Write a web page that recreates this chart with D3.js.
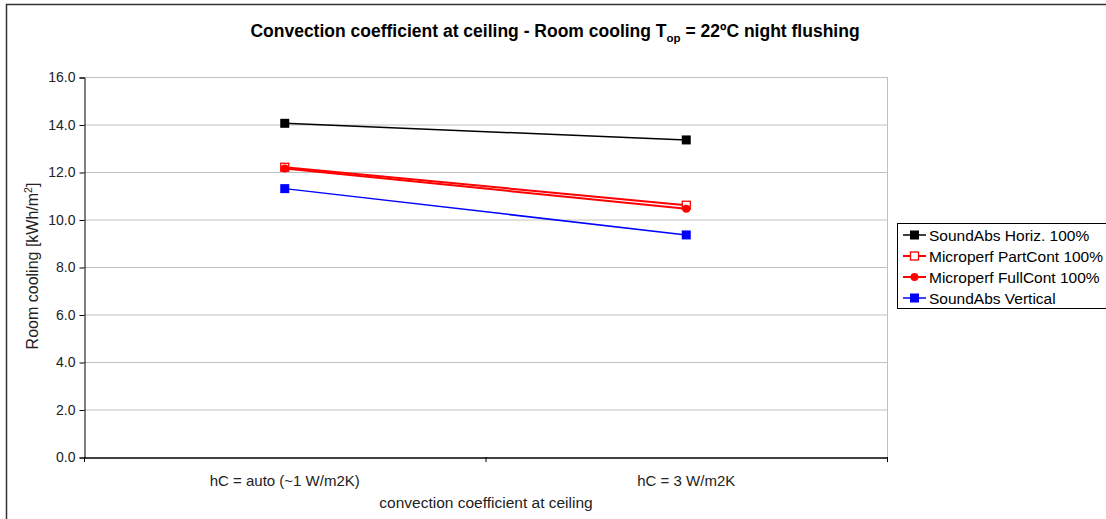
<!DOCTYPE html>
<html><head><meta charset="utf-8">
<script src="https://d3js.org/d3.v7.min.js"></script>
<style>body{margin:0;background:#fff;}svg{display:block;font-family:"Liberation Sans",Arial,sans-serif;}</style>
</head><body>
<svg id="c" width="1106" height="519"></svg>
<script>
const categories = ["hC = auto (~1 W/m2K)", "hC = 3 W/m2K"];
const seriesNames = ["SoundAbs Horiz. 100%", "Microperf PartCont 100%", "Microperf FullCont 100%", "SoundAbs Vertical"];
const soundAbsHoriz = [14.05, 13.35];
const microperfPart = [12.2, 10.6];
const microperfFull = [12.15, 10.45];
const soundAbsVert = [11.3, 9.35];
const yTicks = [0, 2, 4, 6, 8, 10, 12, 14, 16];

const series = [
  {name: seriesNames[0], values: soundAbsHoriz, color: "#000000", marker: "square", width: 1.5},
  {name: seriesNames[1], values: microperfPart, color: "#ff0000", marker: "openSquare", width: 2},
  {name: seriesNames[2], values: microperfFull, color: "#ff0000", marker: "circle", width: 2},
  {name: seriesNames[3], values: soundAbsVert, color: "#0000ff", marker: "square", width: 1.5}
];

const svg = d3.select("#c");
svg.append("rect").attr("x", 6.5).attr("y", 4.5).attr("width", 1200).attr("height", 600)
  .attr("fill", "#fff").attr("stroke", "#333").attr("stroke-width", 1.5);

const L = 84, R = 887, T = 77, B = 457;
const x = d3.scaleBand().domain(categories).range([L, R]);
const y = d3.scaleLinear().domain([0, 16]).range([B, T]);

svg.append("g").selectAll("line").data(yTicks.filter(d => d > 0)).join("line")
  .attr("x1", L).attr("x2", R).attr("y1", d => y(d) + 0.5).attr("y2", d => y(d) + 0.5)
  .attr("stroke", "#c0c0c0").attr("stroke-width", 1);
svg.append("line").attr("x1", R + 0.5).attr("x2", R + 0.5).attr("y1", T).attr("y2", B)
  .attr("stroke", "#c0c0c0");

const yAxis = d3.axisLeft(y).tickValues(yTicks).tickFormat(d3.format(".1f")).tickSize(5).tickPadding(4);
const gy = svg.append("g").attr("transform", `translate(${L + 0.5},0.5)`).call(yAxis);
gy.select(".domain").attr("stroke", "#000");
gy.selectAll(".tick line").attr("stroke", "#000");
gy.selectAll("text").attr("font-size", 14).attr("fill", "#222").attr("font-family", "Liberation Sans, Arial, sans-serif");

const xAxis = d3.axisBottom(x).tickSize(0).tickPadding(18);
const gx = svg.append("g").attr("transform", `translate(0,${B + 0.5})`).call(xAxis);
gx.select(".domain").attr("stroke", "#000").attr("stroke-width", 1.5);
gx.selectAll("text").attr("font-size", 15).attr("fill", "#222").attr("font-family", "Liberation Sans, Arial, sans-serif");
const bounds = [L, x(categories[1]), R];
svg.append("g").selectAll("line").data(bounds).join("line")
  .attr("x1", d => d + 0.5).attr("x2", d => d + 0.5).attr("y1", B).attr("y2", B + 5)
  .attr("stroke", "#000");

const title = svg.append("text").attr("x", 555).attr("y", 37).attr("text-anchor", "middle")
  .attr("font-size", 17.5).attr("font-weight", "bold").attr("fill", "#000");
title.append("tspan").text("Convection coefficient at ceiling - Room cooling T");
title.append("tspan").text("op").attr("font-size", 11.5).attr("dy", 5);
title.append("tspan").text(" = 22ºC night flushing").attr("dy", -5);

svg.append("text").attr("x", 486).attr("y", 508).attr("text-anchor", "middle")
  .attr("font-size", 15.5).attr("fill", "#222").text("convection coefficient at ceiling");
const yt = svg.append("text").attr("transform", "translate(38,266) rotate(-90)")
  .attr("text-anchor", "middle").attr("font-size", 16).attr("fill", "#222");
yt.append("tspan").text("Room cooling [kWh/m");
yt.append("tspan").text("2").attr("font-size", 10.5).attr("dy", -6);
yt.append("tspan").text("]").attr("dy", 6);

function drawMarker(g, type, color, cx, cy) {
  if (type === "square") {
    g.append("rect").attr("x", cx - 4.5).attr("y", cy - 4.5).attr("width", 9).attr("height", 9).attr("fill", color);
  } else if (type === "openSquare") {
    g.append("rect").attr("x", cx - 4).attr("y", cy - 4).attr("width", 8).attr("height", 8)
      .attr("fill", "#fff").attr("stroke", color).attr("stroke-width", 1.3);
  } else {
    g.append("circle").attr("cx", cx).attr("cy", cy).attr("r", 4).attr("fill", color);
  }
}

const xc = c => x(c) + x.bandwidth() / 2;
const line = d3.line().x((d, i) => xc(categories[i])).y(d => y(d));
series.forEach(s => {
  const g = svg.append("g");
  g.append("path").attr("d", line(s.values)).attr("fill", "none")
    .attr("stroke", s.color).attr("stroke-width", s.width);
  s.values.forEach((v, i) => drawMarker(g, s.marker, s.color, xc(categories[i]), y(v)));
});

const lg = svg.append("g");
lg.append("rect").attr("x", 897.5).attr("y", 223.5).attr("width", 260).attr("height", 85)
  .attr("fill", "#fff").attr("stroke", "#000");
series.forEach((s, i) => {
  const cy = 235 + i * 21;
  lg.append("line").attr("x1", 903).attr("x2", 926).attr("y1", cy).attr("y2", cy)
    .attr("stroke", s.color).attr("stroke-width", s.width);
  drawMarker(lg, s.marker, s.color, 914.5, cy);
  lg.append("text").attr("x", 929).attr("y", cy + 5.5).attr("font-size", 15.5).attr("fill", "#000").text(s.name);
});
</script>
</body></html>
